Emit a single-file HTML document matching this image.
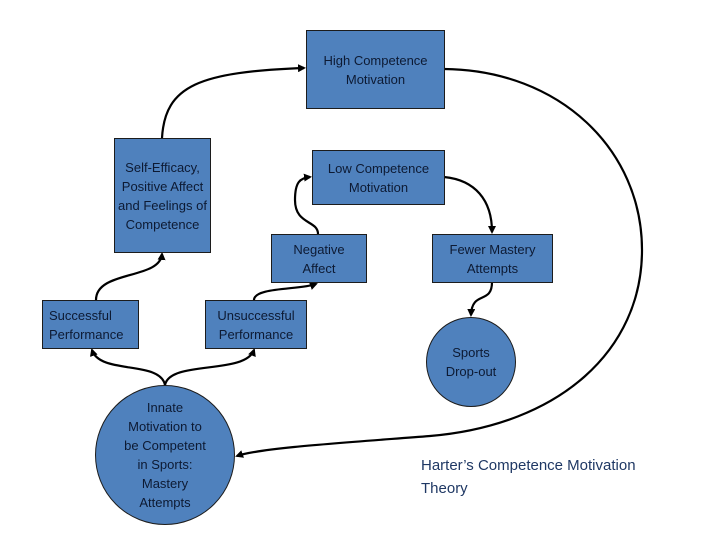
<!DOCTYPE html>
<html><head><style>
body{margin:0;background:#fff;}
.w{position:relative;width:720px;height:540px;font-family:"Liberation Sans",sans-serif;}
.b{position:absolute;background:#4f81bd;border:1.5px solid #1c1c1c;box-sizing:border-box;display:flex;align-items:center;justify-content:center;text-align:center;font-size:13px;line-height:19px;color:#0d1a33;}
.c{border-radius:50%;}
.t{position:absolute;left:421px;top:454px;font-size:15px;line-height:23px;color:#1f3864;}
svg{position:absolute;left:0;top:0;}
</style></head><body><div class="w">
<svg width="720" height="540" fill="none" stroke="#000" stroke-width="2.2">
<defs><marker id="a" markerWidth="8" markerHeight="8" refX="6" refY="4" orient="auto" markerUnits="userSpaceOnUse"><path d="M0,0 L8,4 L0,8z" fill="#000" stroke="none"/></marker></defs>
<path d="M162,138 C165,85 200,72 304,68" marker-end="url(#a)"/>
<path d="M165,385 C160,360 100,375 92,350" marker-end="url(#a)"/>
<path d="M165,385 C170,360 245,375 254,350" marker-end="url(#a)"/>
<path d="M96,300 C96,270 160,280 162,254" marker-end="url(#a)"/>
<path d="M254,300 C254,287 300,290 316,284" marker-end="url(#a)"/>
<path d="M318,234 C318,220 295,225 295,200 C295,182 300,178 310,177" marker-end="url(#a)"/>
<path d="M444,177 C475,180 492,200 492,232" marker-end="url(#a)"/>
<path d="M492,282 C492,305 472,290 471,315" marker-end="url(#a)"/>
<path d="M444,69 C560,70 642,150 642,250 C642,350 560,425 430,436 C340,443 260,448 237,456" marker-end="url(#a)"/>
</svg>
<div class="b" style="left:306px;top:30px;width:139px;height:79px">High Competence<br>Motivation</div>
<div class="b" style="left:312px;top:150px;width:133px;height:55px">Low Competence<br>Motivation</div>
<div class="b" style="left:271px;top:234px;width:96px;height:49px">Negative<br>Affect</div>
<div class="b" style="left:432px;top:234px;width:121px;height:49px">Fewer Mastery<br>Attempts</div>
<div class="b c" style="left:426px;top:317px;width:90px;height:90px">Sports<br>Drop-out</div>
<div class="b" style="left:114px;top:138px;width:97px;height:115px">Self-Efficacy,<br>Positive Affect<br>and Feelings of<br>Competence</div>
<div class="b" style="left:42px;top:300px;width:97px;height:49px;justify-content:flex-start;text-align:left;padding-left:6px">Successful<br>Performance</div>
<div class="b" style="left:205px;top:300px;width:102px;height:49px">Unsuccessful<br>Performance</div>
<div class="b c" style="left:95px;top:385px;width:140px;height:140px">Innate<br>Motivation to<br>be Competent<br>in Sports:<br>Mastery<br>Attempts</div>
<div class="t">Harter’s Competence Motivation<br>Theory</div>
</div></body></html>
